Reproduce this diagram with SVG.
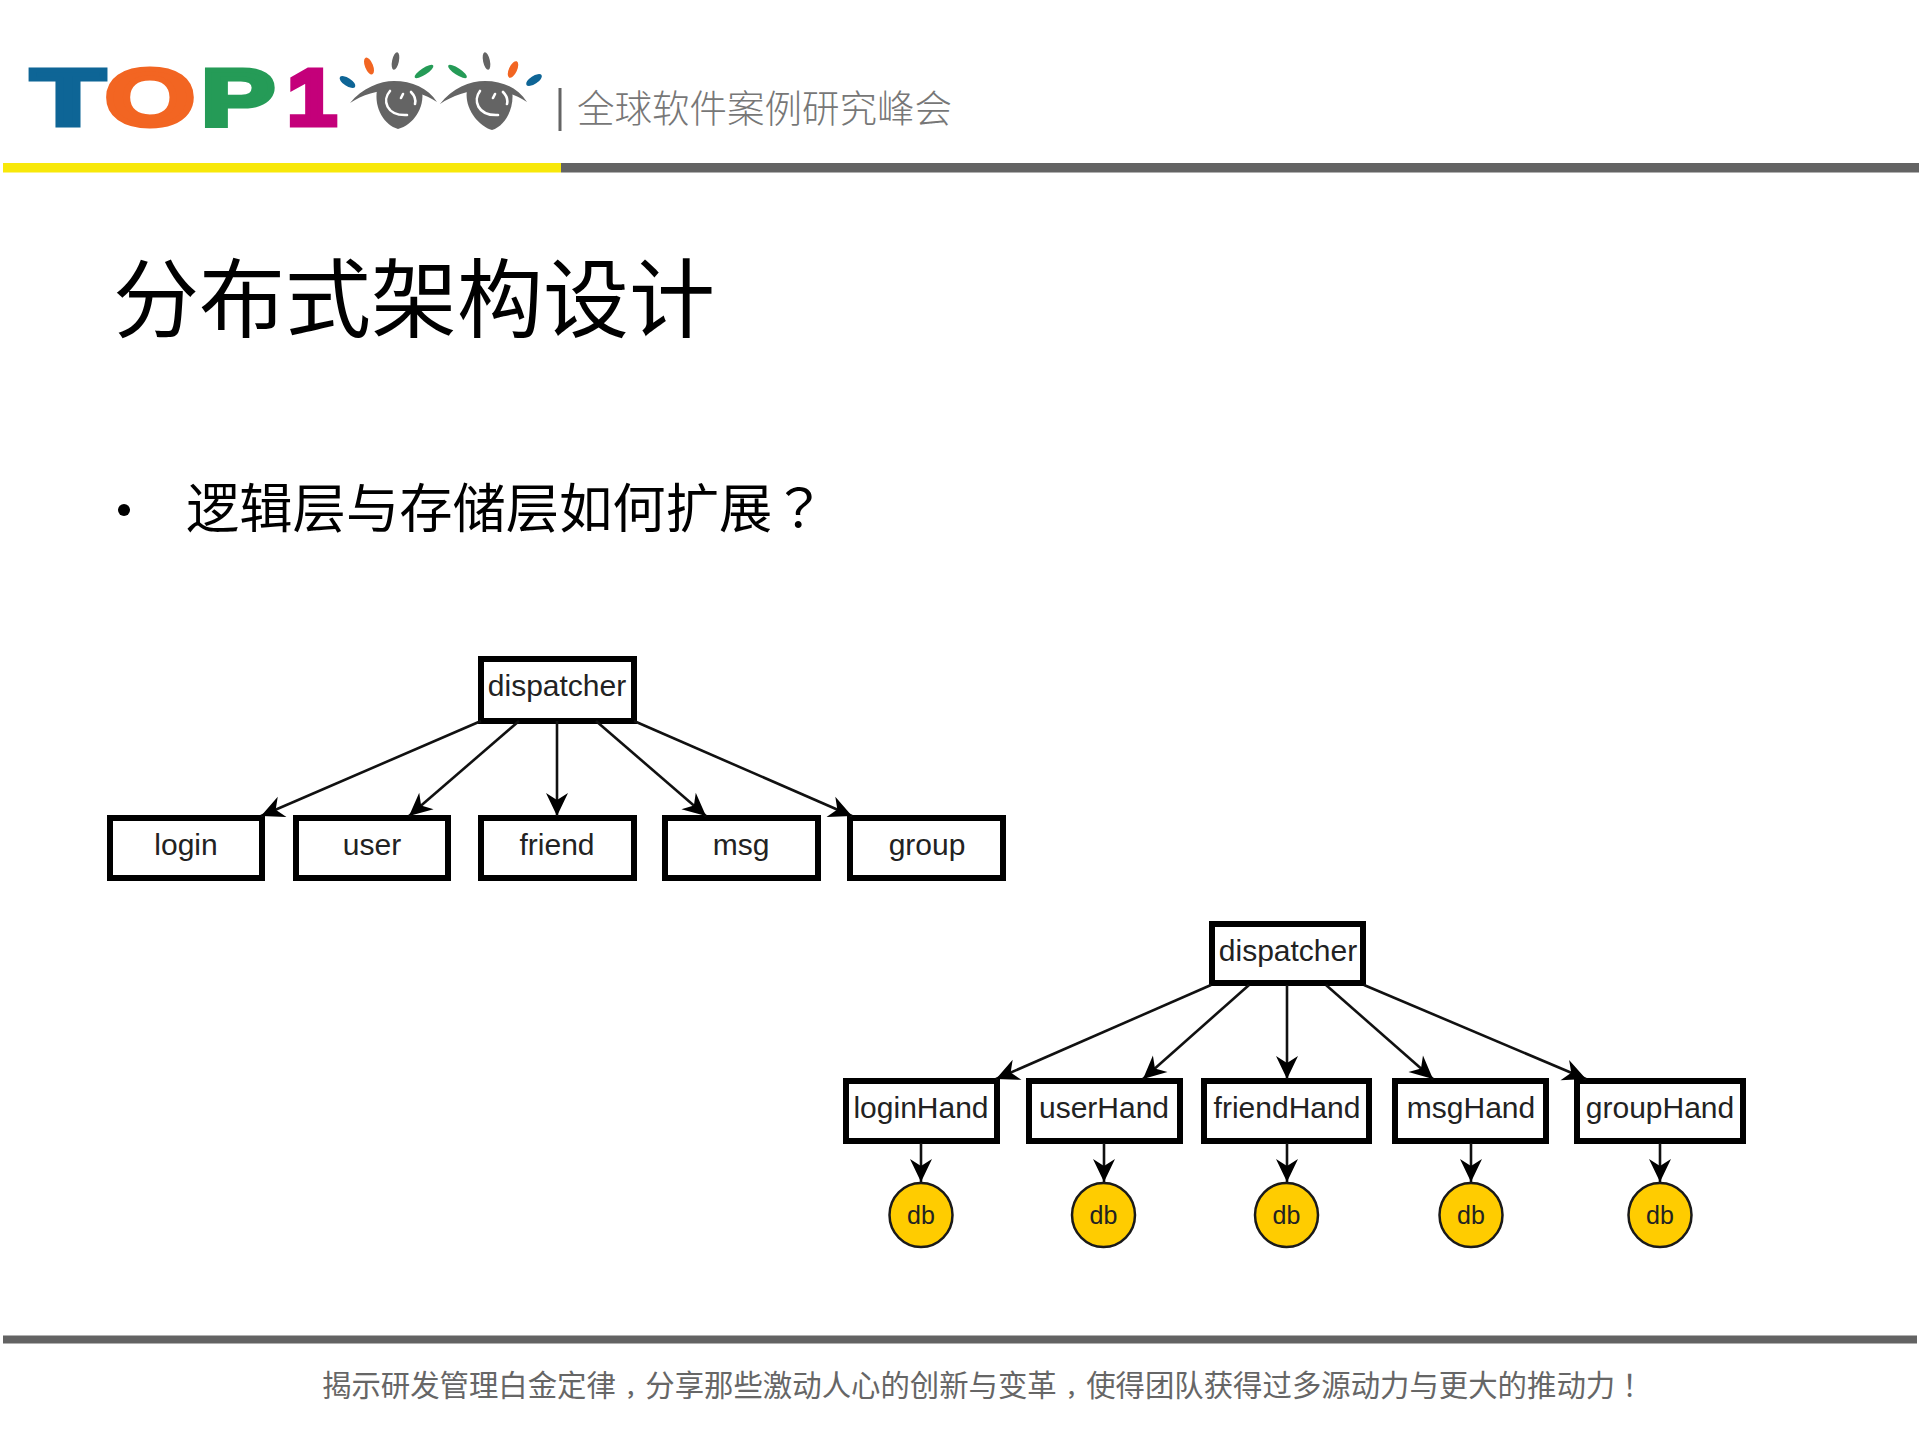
<svg xmlns="http://www.w3.org/2000/svg" width="1919" height="1439" viewBox="0 0 1919 1439">
<style>
.cjk{font-family:"Noto Sans CJK SC","Noto Sans",sans-serif}
.pn{font-family:"Noto Sans CJK TC","Noto Sans",sans-serif}
.cm{font-size:20.400px;font-weight:700}
.box{fill:#fff;stroke:#000;stroke-width:6}
.lbl{font-family:"Liberation Sans",Arial,sans-serif;font-size:30px;fill:#222;text-anchor:middle}
.db{fill:#FFCC00;stroke:#1a1a1a;stroke-width:2.5}
.dbt{font-family:"Liberation Sans",Arial,sans-serif;font-size:25px;fill:#222;text-anchor:middle}
.edge{stroke:#111;stroke-width:2.6;fill:none;marker-end:url(#arrow)}
.logo{font-family:"Liberation Sans",Arial,sans-serif;font-weight:700;font-size:80px;stroke-width:5}
.eye{fill:#646464}
.hl{fill:none;stroke:#fff;stroke-width:2.6;stroke-linecap:round}
</style>
<defs>
<marker id="arrow" markerUnits="userSpaceOnUse" markerWidth="26" markerHeight="26" refX="24" refY="13" orient="auto">
<path d="M24 13 L1 2 L8 13 L1 24 Z" fill="#000"/>
</marker>
</defs>
<rect width="1919" height="1439" fill="#fff"/>
<g id="logo">
<text class="logo" x="31" y="124.500" textLength="74" lengthAdjust="spacingAndGlyphs" fill="#0E6596" stroke="#0E6596">T</text>
<text class="logo" x="105" y="125" textLength="90" lengthAdjust="spacingAndGlyphs" fill="#F26522" stroke="#F26522">O</text>
<text class="logo" x="201" y="124.500" textLength="74" lengthAdjust="spacingAndGlyphs" fill="#259B57" stroke="#259B57">P</text>
<text class="logo" x="287" y="124.500" textLength="50" lengthAdjust="spacingAndGlyphs" fill="#C4007A" stroke="#C4007A">1</text>
<path class="eye" d="M350 103 C362 88 380 81 394 81 C412 81 428 88 437 102 C425 94 412 90 394 90 C378 90 362 95 350 103Z"/>
<path class="eye" d="M377 90 C390 87 410 87 422 90 C425 108 413 125 398 129 C384 125 374 108 377 90Z"/>
<path class="hl" d="M390 91 C382 100 386 116 407 115"/>
<path class="hl" d="M403 94 L401 98 M411 92 C415 96 416 100 415 104"/>
<path class="eye" d="M440 104 C452 88 470 81 485 81 C503 81 518 88 527 102 C515 94 502 90 485 90 C468 90 452 96 440 104Z"/>
<path class="eye" d="M467 90 C480 87 500 87 512 90 C515 108 505 126 492 130 C478 126 464 108 467 90Z"/>
<path class="hl" d="M480 91 C473 100 477 116 498 115"/>
<path class="hl" d="M495 94 L493 98 M503 92 C507 96 508 100 507 104"/>
<ellipse cx="347.500" cy="82" rx="9" ry="4" transform="rotate(33 347.500 82)" fill="#0E6596"/>
<ellipse cx="369" cy="66" rx="9" ry="4" transform="rotate(68 369 66)" fill="#F26522"/>
<ellipse cx="395.500" cy="61" rx="9" ry="3.400" transform="rotate(-78 395.500 61)" fill="#646464"/>
<ellipse cx="424" cy="71.500" rx="11" ry="3.400" transform="rotate(-33 424 71.500)" fill="#259B57"/>
<ellipse cx="457.500" cy="71.500" rx="11" ry="3.400" transform="rotate(33 457.500 71.500)" fill="#259B57"/>
<ellipse cx="486.500" cy="61" rx="9" ry="3.400" transform="rotate(78 486.500 61)" fill="#646464"/>
<ellipse cx="513" cy="69.500" rx="9" ry="4" transform="rotate(-65 513 69.500)" fill="#F26522"/>
<ellipse cx="534" cy="80" rx="9" ry="4" transform="rotate(-33 534 80)" fill="#0E6596"/>
<rect x="558.500" y="88" width="3" height="43" fill="#646464"/>
<text class="cjk" x="577" y="122" font-size="37.500" font-weight="300" fill="#777">全球软件案例研究峰会</text>
</g>
<rect id="rule-yellow" x="3" y="163" width="558" height="9.500" fill="#F8E80A"/>
<rect id="rule-grey" x="561" y="163" width="1358" height="9.500" fill="#636363"/>
<text id="title" class="cjk" x="113" y="331" font-size="86" fill="#000">分布式架构设计</text>
<circle id="bullet" cx="124" cy="510" r="6" fill="#000"/>
<text id="bullet-text" class="cjk" x="186" y="528" font-size="53.300" fill="#000">逻辑层与存储层如何扩展<tspan class="pn">？</tspan></text>

<g id="t1-dispatcher"><rect class="box" x="481" y="659" width="153" height="62"/><text class="lbl" x="557" y="696">dispatcher</text></g>
<g id="t1-login"><rect class="box" x="110" y="818" width="152" height="60"/><text class="lbl" x="186" y="855">login</text></g>
<g id="t1-user"><rect class="box" x="296" y="818" width="152" height="60"/><text class="lbl" x="372" y="855">user</text></g>
<g id="t1-friend"><rect class="box" x="481" y="818" width="153" height="60"/><text class="lbl" x="557" y="855">friend</text></g>
<g id="t1-msg"><rect class="box" x="665" y="818" width="153" height="60"/><text class="lbl" x="741" y="855">msg</text></g>
<g id="t1-group"><rect class="box" x="850" y="818" width="153" height="60"/><text class="lbl" x="927" y="855">group</text></g>

<g id="t2-dispatcher"><rect class="box" x="1212" y="924" width="151" height="59"/><text class="lbl" x="1288" y="961">dispatcher</text></g>
<g id="t2-loginHand"><rect class="box" x="846" y="1081" width="151" height="60"/><text class="lbl" x="921" y="1118">loginHand</text></g>
<g id="t2-userHand"><rect class="box" x="1029" y="1081" width="151" height="60"/><text class="lbl" x="1104" y="1118">userHand</text></g>
<g id="t2-friendHand"><rect class="box" x="1204" y="1081" width="165" height="60"/><text class="lbl" x="1287" y="1118">friendHand</text></g>
<g id="t2-msgHand"><rect class="box" x="1395" y="1081" width="151" height="60"/><text class="lbl" x="1471" y="1118">msgHand</text></g>
<g id="t2-groupHand"><rect class="box" x="1577" y="1081" width="166" height="60"/><text class="lbl" x="1660" y="1118">groupHand</text></g>

<g id="db1"><ellipse class="db" cx="921" cy="1215" rx="31.500" ry="32"/><text class="dbt" x="921" y="1224">db</text></g>
<g id="db2"><ellipse class="db" cx="1103.500" cy="1215" rx="31.500" ry="32"/><text class="dbt" x="1103.500" y="1224">db</text></g>
<g id="db3"><ellipse class="db" cx="1286.500" cy="1215" rx="31.500" ry="32"/><text class="dbt" x="1286.500" y="1224">db</text></g>
<g id="db4"><ellipse class="db" cx="1471" cy="1215" rx="31.500" ry="32"/><text class="dbt" x="1471" y="1224">db</text></g>
<g id="db5"><ellipse class="db" cx="1660" cy="1215" rx="31.500" ry="32"/><text class="dbt" x="1660" y="1224">db</text></g>

<g id="connectors">
<line class="edge" x1="481" y1="721" x2="261" y2="816"/>
<line class="edge" x1="519" y1="721" x2="409" y2="816"/>
<line class="edge" x1="557" y1="721" x2="557" y2="816"/>
<line class="edge" x1="596" y1="721" x2="706" y2="816"/>
<line class="edge" x1="634" y1="721" x2="852" y2="816"/>
<line class="edge" x1="1211" y1="985" x2="996" y2="1079"/>
<line class="edge" x1="1249" y1="985" x2="1143" y2="1079"/>
<line class="edge" x1="1287" y1="985" x2="1287" y2="1079"/>
<line class="edge" x1="1326" y1="985" x2="1433" y2="1079"/>
<line class="edge" x1="1364" y1="985" x2="1586" y2="1079"/>
<line class="edge" x1="921" y1="1143" x2="921" y2="1182"/>
<line class="edge" x1="1104" y1="1143" x2="1104" y2="1182"/>
<line class="edge" x1="1287" y1="1143" x2="1287" y2="1182"/>
<line class="edge" x1="1471" y1="1143" x2="1471" y2="1182"/>
<line class="edge" x1="1660" y1="1143" x2="1660" y2="1182"/>
</g>
<rect id="rule-bottom" x="3" y="1335.500" width="1914" height="8" fill="#636363"/>
<text id="footer" class="cjk" x="322" y="1396" font-size="29.400" fill="#666">揭示研发管理白金定律<tspan class="cm" dx="9">，</tspan>分享那些激动人心的创新与变革<tspan class="cm" dx="9">，</tspan>使得团队获得过多源动力与更大的推动力<tspan dx="7">！</tspan></text>
</svg>
